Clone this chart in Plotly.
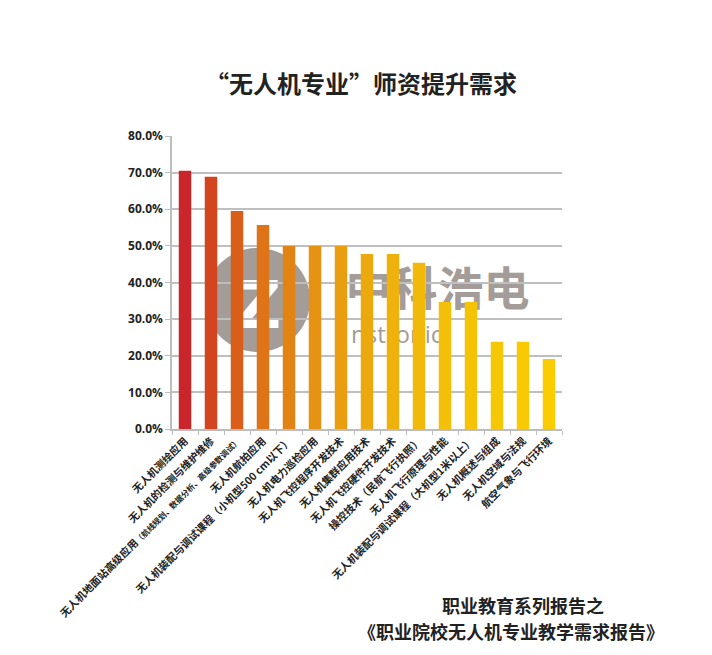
import plotly.graph_objects as go

categories = [
    "无人机测绘应用",
    "无人机的检测与维护维修",
    "无人机地面站高级应用（航线规划、数据分析、高级参数调试）",
    "无人机航拍应用",
    "无人机装配与调试课程（小机型500 cm以下）",
    "无人机电力巡检应用",
    "无人机飞控程序开发技术",
    "无人机集群应用技术",
    "无人机飞控硬件开发技术",
    "操控技术（民航飞行执照）",
    "无人机飞行原理与性能",
    "无人机装配与调试课程（大机型1米以上）",
    "无人机概述与组成",
    "无人机空域与法规",
    "航空气象与飞行环境",
]
values = [0.705, 0.689, 0.595, 0.557, 0.500, 0.500, 0.500, 0.478, 0.478, 0.454,
          0.347, 0.347, 0.238, 0.238, 0.191]
tick_labels = list(categories)
tick_labels[2] = ("无人机地面站高级应用<span style='font-size:8px'>（航线规划、数据分析、高级参数调试）</span>")

colors = ["#C9252A", "#D3451F", "#D95E1A", "#DE7318", "#E28414", "#E69212",
          "#E99E10", "#ECA90E", "#EFB20C", "#F1B90A", "#F3BF08", "#F5C306",
          "#F6C704", "#F8CA03", "#F9CD02"]

fig = go.Figure()
fig.add_trace(go.Bar(x=categories, y=values, marker=dict(color=colors, line=dict(width=0)),
                     hoverinfo="x+y"))

font_cjk = "Noto Sans CJK SC, Noto Sans, sans-serif"

OFF = 8  # page body margin
W, H = 712 - OFF, 655 - OFF
L, T = 172 - OFF, 136 - OFF
PW, PH = 390, 293
R, B = W - L - PW, H - T - PH


def px(x):
    return (x - OFF - L) / PW


def py(y):
    return (T + PH - (y - OFF)) / PH


fig.update_layout(
    width=W, height=H,
    margin=dict(l=L, r=R, t=T, b=B, autoexpand=False),
    paper_bgcolor="white", plot_bgcolor="white",
    bargap=0.52,
    showlegend=False,
    font=dict(family=font_cjk, color="#222222"),
    title=dict(text="<b>“无人机专业”师资提升需求</b>", x=(361 - OFF) / W, xanchor="center",
               y=1 - (85 - OFF) / H, yanchor="middle",
               font=dict(size=24, family=font_cjk, color="#222222")),
    xaxis=dict(
        tickmode="array", tickvals=categories, ticktext=tick_labels,
        tickangle=-45, tickfont=dict(size=10.5, family=font_cjk, color="#222222", weight=600),
        showline=True, linecolor="#BDBDBD", linewidth=1.5,
        ticks="outside", tickson="boundaries", ticklen=4, tickcolor="#BDBDBD",
        showgrid=False, fixedrange=True, automargin=False,
    ),
    yaxis=dict(
        range=[0, 0.8], dtick=0.1, tickformat=".1%",
        tickfont=dict(size=12, family="Open Sans, Roboto, sans-serif", color="#222222",
                      weight="bold"),
        showgrid=True, gridcolor="#BFBFBF", gridwidth=1.5,
        showline=True, linecolor="#BDBDBD", linewidth=1.5,
        ticks="outside", ticklen=5, tickcolor="#BDBDBD",
        zeroline=False, fixedrange=True, automargin=False,
    ),
)

# watermark (drawn below gridlines and bars)
fig.add_shape(type="circle", xref="paper", yref="paper", layer="below",
              x0=px(205), x1=px(310), y0=py(352), y1=py(248),
              fillcolor="#A39C98", line=dict(width=0),
              label=dict(text="<b>Z</b>", font=dict(size=66, color="white", family="DejaVu Sans"),
                         textposition="middle center"))
fig.add_shape(type="rect", xref="paper", yref="paper", layer="below",
              x0=px(330), x1=px(545), y0=py(318), y1=py(266),
              fillcolor="rgba(0,0,0,0)", line=dict(width=0),
              label=dict(text="<b>中科浩电</b>", font=dict(size=46, color="#A39C98", family=font_cjk),
                         textposition="middle center"))
fig.add_shape(type="rect", xref="paper", yref="paper", layer="below",
              x0=px(345), x1=px(470), y0=py(348), y1=py(322),
              fillcolor="rgba(0,0,0,0)", line=dict(width=0),
              label=dict(text="nstronic", font=dict(size=24, color="#A39C98", family="Open Sans"),
                         textposition="middle left"))

# footer text
fig.add_annotation(xref="paper", yref="paper", x=px(523), y=py(605),
                   text="<b>职业教育系列报告之</b>", showarrow=False,
                   font=dict(size=18, family=font_cjk, color="#222222"),
                   xanchor="center", yanchor="middle")
fig.add_annotation(xref="paper", yref="paper", x=px(356), y=py(631),
                   text="<b>《职业院校无人机专业教学需求报告》</b>", showarrow=False,
                   font=dict(size=18, family=font_cjk, color="#222222"),
                   xanchor="left", yanchor="middle")

fig.write_html("out.html")
